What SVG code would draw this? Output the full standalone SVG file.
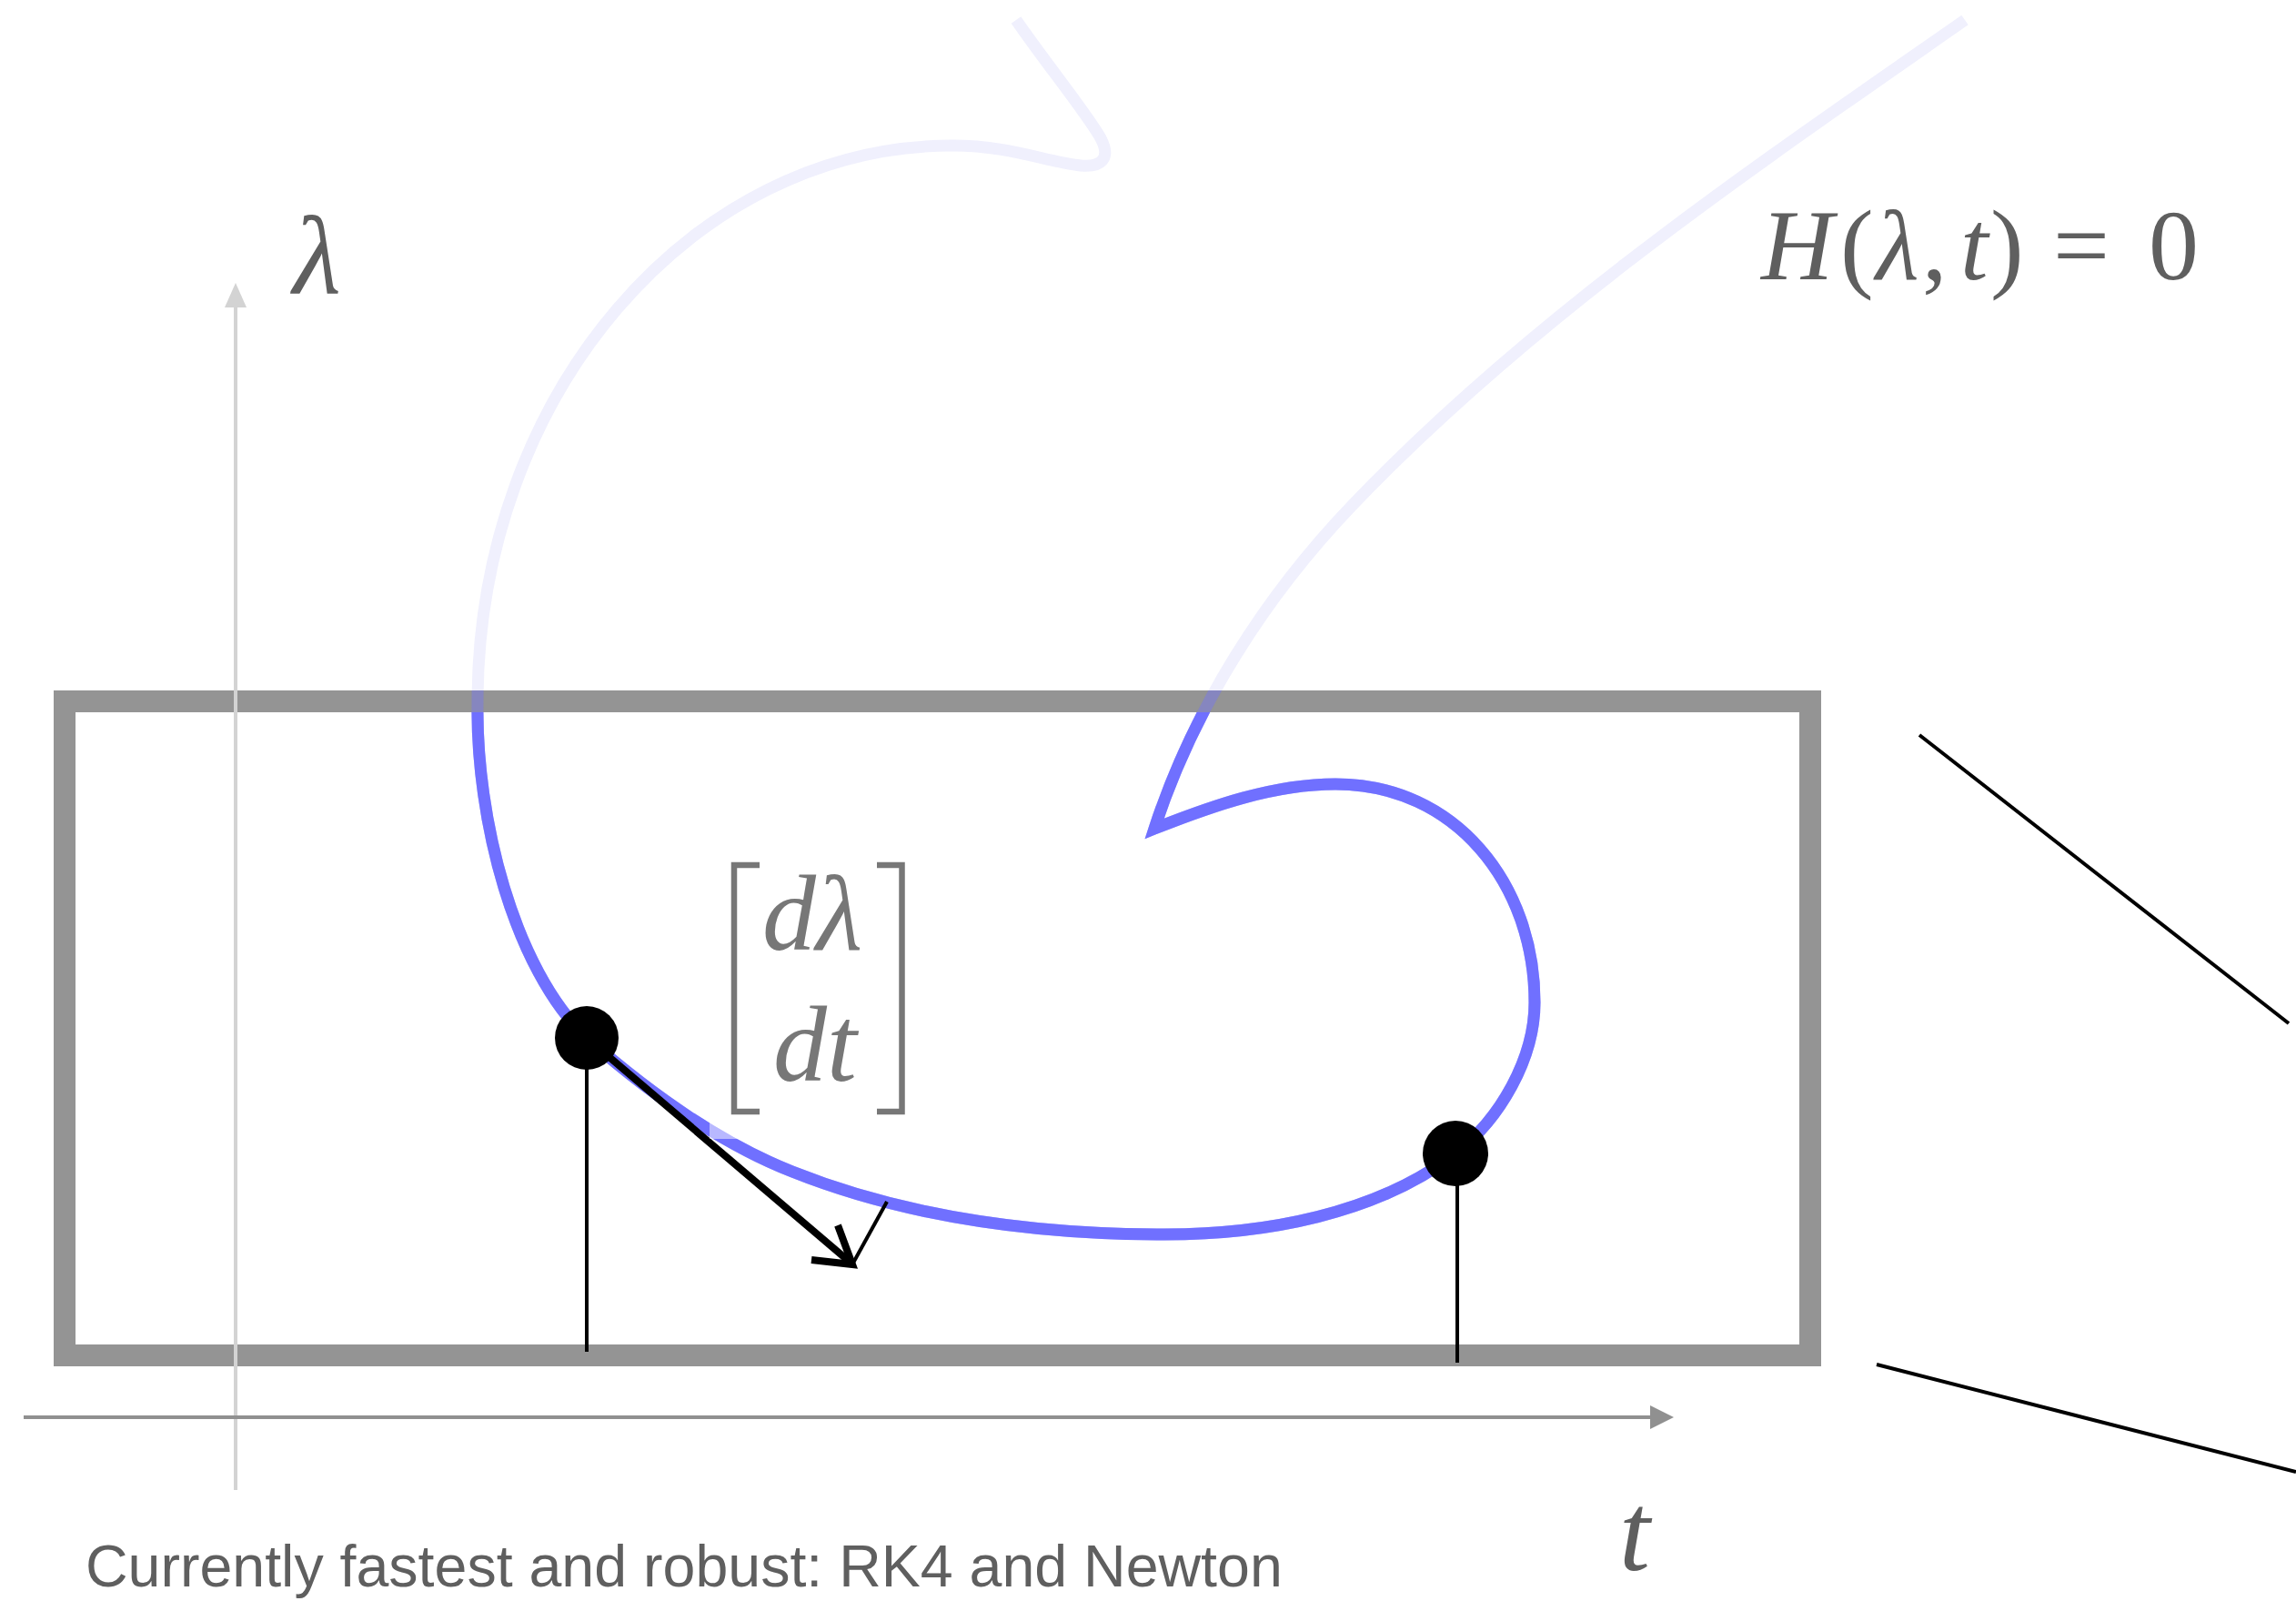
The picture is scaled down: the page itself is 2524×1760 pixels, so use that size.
<svg xmlns="http://www.w3.org/2000/svg" width="2524" height="1760" viewBox="0 0 2524 1760">
<style>
.math{font-family:"Liberation Serif","Times New Roman",serif;fill:#5f5f5f}
.it{font-style:italic}
.thin{stroke:#000;stroke-width:4;fill:none}
</style>
<defs>
<path id="path-H" fill="none" stroke-width="13" stroke-linejoin="miter" stroke-miterlimit="20" d="M1117,22 C1150,70 1195,125 1210,152 C1222,175 1210,184 1188,182 C1150,178 1110,160 1047,160 C760,160 525,435 525,772 C523,900 565,1065 645,1141 C712,1200 787,1255 871,1288 C999,1339 1142,1357 1280,1357 C1390,1357 1513,1335 1600,1268 C1649,1230 1687,1164 1687,1102 C1687,972 1600,862 1468,862 C1400,862 1332,886 1269,911 C1312,779 1391,655 1487,555 C1684,349 1925,186 2160,22"/>
<clipPath id="clip-inner"><rect x="83" y="783" width="1895" height="695"/></clipPath>
<clipPath id="clip-outer"><rect x="59" y="759" width="1943" height="743"/></clipPath>
</defs>
<rect width="2524" height="1760" fill="#fff"/>

<g id="curve-faint">
<use href="#path-H" stroke="#f0f0fd"/>
</g>

<g id="frame">
<rect x="71" y="771" width="1919" height="719" fill="none" stroke="#949494" stroke-width="24"/>
</g>

<g id="curve">
<use href="#path-H" stroke="#7070ff" stroke-opacity="0.4" clip-path="url(#clip-outer)"/>
<use href="#path-H" stroke="#7070ff" clip-path="url(#clip-inner)"/>
</g>

<g id="connectors">
<g id="axis-lambda">
<line x1="259" y1="1638" x2="259" y2="336" stroke="#d3d3d3" stroke-width="4"/>
<polygon points="259,311 247,338 271,338" fill="#d3d3d3"/>
</g>
<g id="axis-t">
<line x1="26" y1="1558" x2="1816" y2="1558" stroke="#909090" stroke-width="4"/>
<polygon points="1840,1558 1814,1545 1814,1571" fill="#909090"/>
</g>
<line class="thin" x1="645" y1="1141" x2="645" y2="1486"/>
<line class="thin" x1="1602" y1="1268" x2="1602" y2="1498"/>
<g id="tangent">
<line x1="645" y1="1141" x2="935" y2="1388" stroke="#000" stroke-width="8"/>
<polyline points="892,1385 937,1390 921,1347" fill="none" stroke="#000" stroke-width="8" stroke-linejoin="miter"/>
<line class="thin" x1="937" y1="1390" x2="975" y2="1321"/>
</g>
<line class="thin" x1="2110" y1="808" x2="2516" y2="1125"/>
<line class="thin" x1="2063" y1="1500" x2="2524" y2="1618"/>
</g>

<g id="point-1"><circle cx="645" cy="1141" r="35" fill="#000"/></g>
<g id="point-2"><circle cx="1600" cy="1268" r="36" fill="#000"/></g>

<g id="label-matrix">
<rect x="780" y="925" width="240" height="327" fill="#fff" fill-opacity="0.5"/>
<polyline points="835,951 807,951 807,1222 835,1222" fill="none" stroke="#777" stroke-width="6.5"/>
<polyline points="964,951 991.5,951 991.5,1222 964,1222" fill="none" stroke="#777" stroke-width="6.5"/>
<text class="math it" x="838" y="1044" font-size="118" style="fill:#777">dλ</text>
<text class="math it" x="850" y="1188" font-size="118" style="fill:#777">dt</text>
</g>

<g id="label-lambda">
<text class="math it" x="322" y="322" font-size="122">λ</text>
</g>
<g id="label-t">
<text class="math it" x="1780" y="1726" font-size="122">t</text>
</g>

<g id="label-H">
<text class="math" y="307" font-size="110"><tspan class="it" x="1936">H</tspan><tspan x="2023">(</tspan><tspan class="it" x="2062">λ</tspan><tspan x="2113">,</tspan><tspan class="it" x="2155">t</tspan><tspan x="2188">)</tspan><tspan x="2257">=</tspan><tspan x="2362">0</tspan></text>
</g>

<g id="caption">
<text x="94" y="1744" font-family="Liberation Sans, Arial, sans-serif" font-size="64.5" fill="#5f5f5f">Currently fastest and robust: RK4 and Newton</text>
</g>
</svg>
